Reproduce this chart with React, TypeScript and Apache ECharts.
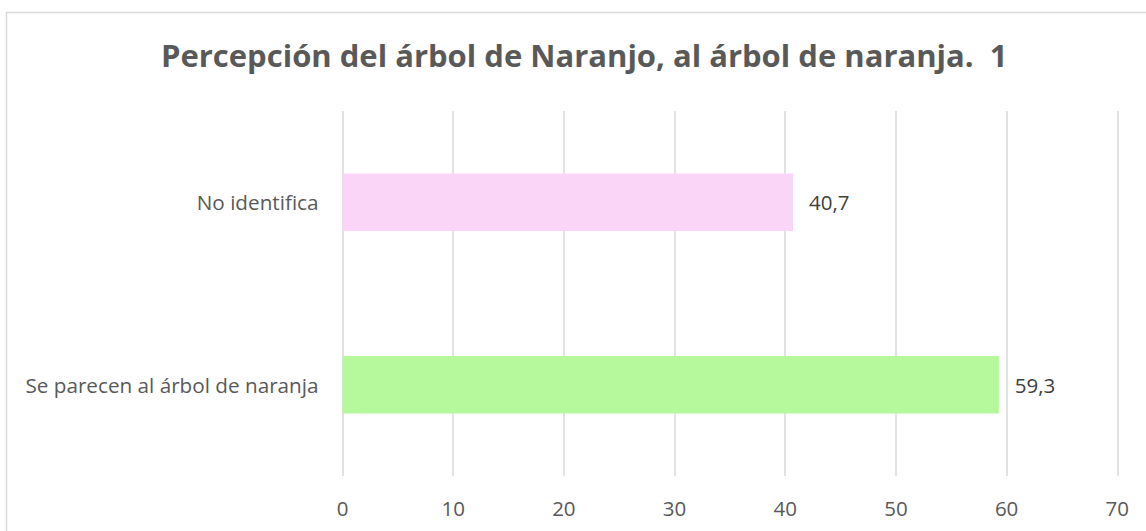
import React, { useEffect, useRef } from "react";
import * as echarts from "echarts";

const titleText = "Percepción del árbol de Naranjo, al árbol de naranja.  1";
const categories = ["Se parecen al árbol de naranja", "No identifica"];
const values = [59.3, 40.7];
const barColors = ["#b5f99c", "#fbd5f8"];
const axisMin = 0;
const axisMax = 70;
const axisInterval = 10;

const FONT = "Open Sans";

export default function App() {
  const ref = useRef<HTMLDivElement>(null);
  useEffect(() => {
    document.body.style.margin = "0";
    const chart = echarts.init(ref.current!, null, { renderer: "svg" });
    chart.setOption({
      animation: false,
      backgroundColor: "#ffffff",
      title: {
        text: titleText,
        left: 156,
        top: 34.5,
        textStyle: {
          fontFamily: FONT,
          fontWeight: "bold",
          fontSize: 31,
          color: "#595959",
        },
      },
      graphic: [
        {
          type: "rect",
          shape: { x: 6.5, y: 12.5, width: 1300, height: 700 },
          style: { fill: "none", stroke: "#d9d9d9", lineWidth: 1.5 },
          silent: true,
        },
      ],
      grid: { left: 342.5, right: 28.7, top: 111, bottom: 55, containLabel: false },
      xAxis: {
        type: "value",
        min: axisMin,
        max: axisMax,
        interval: axisInterval,
        axisLine: { show: false },
        axisTick: { show: false },
        splitLine: { show: true, lineStyle: { color: "#d9d9d9", width: 1.5 } },
        axisLabel: {
          margin: 21.5,
          fontFamily: FONT,
          fontSize: 20.5,
          color: "#595959",
        },
      },
      yAxis: {
        type: "category",
        data: categories,
        axisLine: { show: false },
        axisTick: { show: false },
        axisLabel: {
          margin: 24,
          fontFamily: FONT,
          fontSize: 20.7,
          color: "#595959",
        },
      },
      series: [
        {
          type: "bar",
          data: values.map((v, i) => ({ value: v, itemStyle: { color: barColors[i] } })),
          barWidth: "31.5%",
          label: {
            show: true,
            position: "right",
            distance: 16,
            fontFamily: FONT,
            fontSize: 20.5,
            color: "#404040",
            formatter: (p: any) => String(p.value).replace(".", ","),
          },
        },
      ],
    });
    return () => chart.dispose();
  }, []);
  return <div ref={ref} style={{ width: 1146, height: 531 }} />;
}
